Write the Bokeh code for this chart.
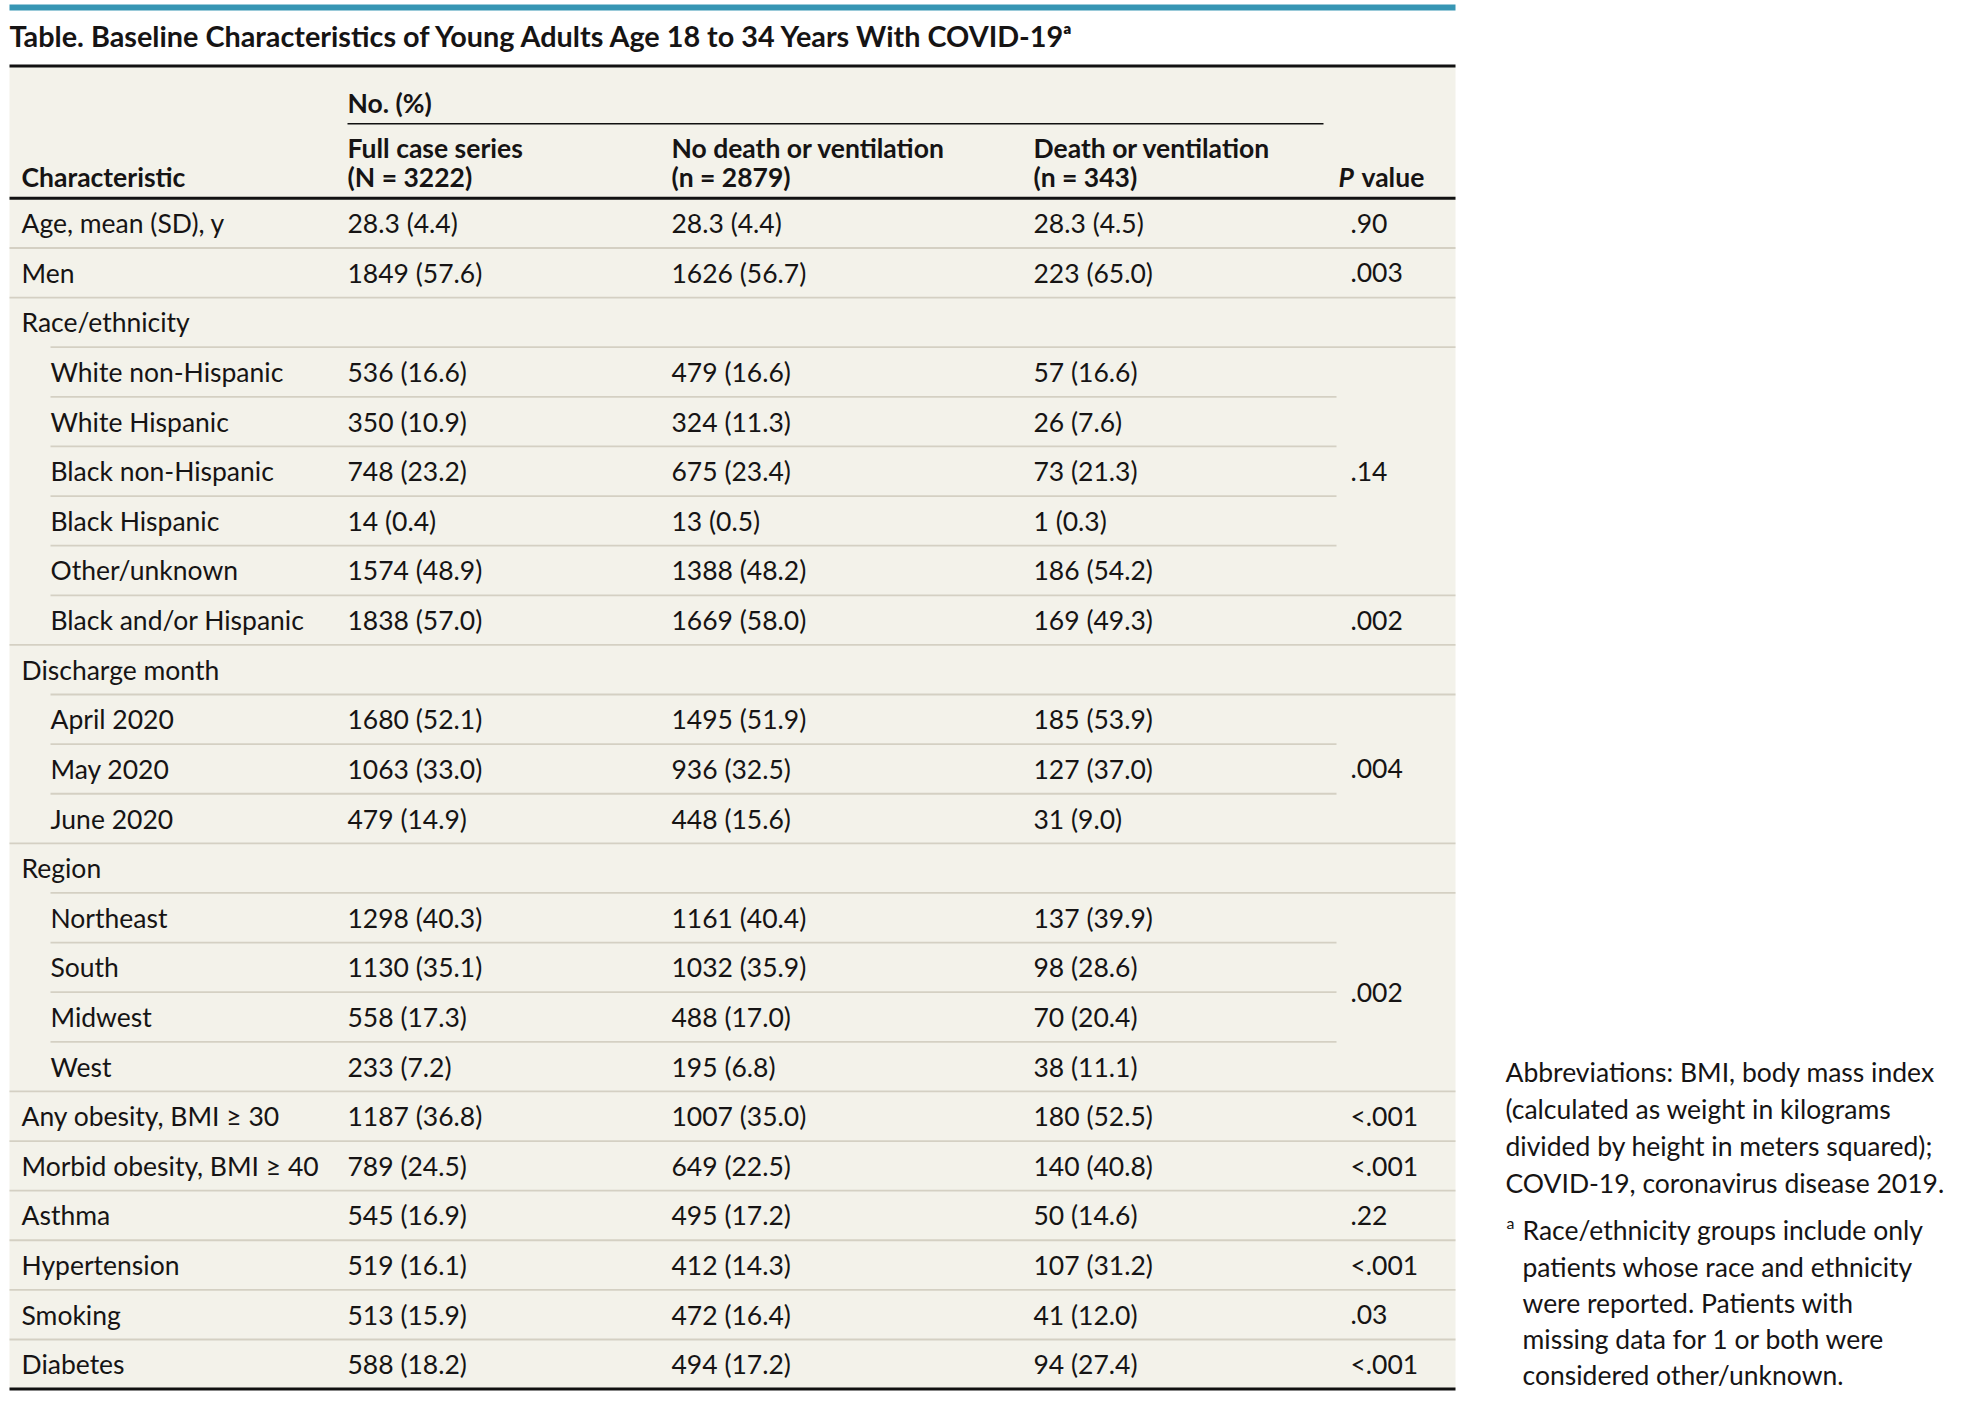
from bokeh.plotting import figure
from bokeh.models import ColumnDataSource, Range1d
from bokeh.embed import file_html
from bokeh.resources import INLINE
from bokeh.core.properties import value

# ---------------- data ----------------
title_text = "Table. Baseline Characteristics of Young Adults Age 18 to 34 Years With COVID-19\u1d43"
group_header = "No. (%)"
first_col_header = "Characteristic"
col_titles = ["Full case series", "No death or ventilation", "Death or ventilation"]
col_sizes = ["(N = 3222)", "(n = 2879)", "(n = 343)"]

characteristics = [
    "Age, mean (SD), y", "Men", "Race/ethnicity", "White non-Hispanic", "White Hispanic",
    "Black non-Hispanic", "Black Hispanic", "Other/unknown", "Black and/or Hispanic",
    "Discharge month", "April 2020", "May 2020", "June 2020", "Region", "Northeast",
    "South", "Midwest", "West", "Any obesity, BMI \u2265 30", "Morbid obesity, BMI \u2265 40",
    "Asthma", "Hypertension", "Smoking", "Diabetes",
]
indented = [0, 0, 0, 1, 1, 1, 1, 1, 1, 0, 1, 1, 1, 0, 1, 1, 1, 1, 0, 0, 0, 0, 0, 0]

full_n = [28.3, 1849, None, 536, 350, 748, 14, 1574, 1838, None, 1680, 1063, 479, None,
          1298, 1130, 558, 233, 1187, 789, 545, 519, 513, 588]
full_pct = [4.4, 57.6, None, 16.6, 10.9, 23.2, 0.4, 48.9, 57.0, None, 52.1, 33.0, 14.9, None,
            40.3, 35.1, 17.3, 7.2, 36.8, 24.5, 16.9, 16.1, 15.9, 18.2]
nodeath_n = [28.3, 1626, None, 479, 324, 675, 13, 1388, 1669, None, 1495, 936, 448, None,
             1161, 1032, 488, 195, 1007, 649, 495, 412, 472, 494]
nodeath_pct = [4.4, 56.7, None, 16.6, 11.3, 23.4, 0.5, 48.2, 58.0, None, 51.9, 32.5, 15.6, None,
               40.4, 35.9, 17.0, 6.8, 35.0, 22.5, 17.2, 14.3, 16.4, 17.2]
death_n = [28.3, 223, None, 57, 26, 73, 1, 186, 169, None, 185, 127, 31, None,
           137, 98, 70, 38, 180, 140, 50, 107, 41, 94]
death_pct = [4.5, 65.0, None, 16.6, 7.6, 21.3, 0.3, 54.2, 49.3, None, 53.9, 37.0, 9.0, None,
             39.9, 28.6, 20.4, 11.1, 52.5, 40.8, 14.6, 31.2, 12.0, 27.4]

p_values = [".90", ".003", ".14", ".002", ".004", ".002", "<.001", "<.001", ".22", "<.001", ".03", "<.001"]
p_first_row = [0, 1, 3, 8, 10, 14, 18, 19, 20, 21, 22, 23]
p_last_row = [0, 1, 7, 8, 12, 17, 18, 19, 20, 21, 22, 23]

footnote_abbrev = [
    "Abbreviations: BMI, body mass index",
    "(calculated as weight in kilograms",
    "divided by height in meters squared);",
    "COVID-19, coronavirus disease 2019.",
]
footnote_a_mark = "a"
footnote_a = [
    "Race/ethnicity groups include only",
    "patients whose race and ethnicity",
    "were reported. Patients with",
    "missing data for 1 or both were",
    "considered other/unknown.",
]

# ---------------- layout / style ----------------
FONT = value("Lato")
TXT = "#161414"
BG = "#f3f2ea"
THIN = "#d4d0c3"
TEAL = "#3796b4"
FS = "26.5px"

ROW_TOP, ROW_H = 199, 49.9
X_LEFT, X_RIGHT = 9, 1455
X_LABEL, X_INDENT = 21, 50
COL_X = [347, 671, 1033]
P_X, P_LINE_END = 1350, 1336
TABLE_BOTTOM = ROW_TOP + ROW_H * 24

n_rows = len(characteristics)


def fmt(n, pct):
    if n is None:
        return ""
    return f"{n:g} ({pct:.1f})"


p = figure(width=1947, height=1392, x_range=Range1d(0, 1947), y_range=Range1d(1400, 0),
           output_backend="svg", toolbar_location=None, min_border=0, title=None)
p.axis.visible = False
p.grid.visible = False
p.outline_line_color = None
p.background_fill_color = "white"
p.border_fill_color = "white"

# teal bar on top
p.quad(left=[X_LEFT], right=[X_RIGHT], top=[4], bottom=[10], fill_color=TEAL, line_color=None)
# table background
p.quad(left=[X_LEFT], right=[X_RIGHT], top=[66], bottom=[TABLE_BOTTOM], fill_color=BG, line_color=None)

# title (y values below are visual text centres)
p.text(x=[9], y=[36], text=[title_text], text_font=FONT, text_font_style="bold",
       text_font_size="28.8px", text_color=TXT, text_baseline="alphabetic", text_align="left")

# heavy rules
p.segment(x0=[X_LEFT] * 3, x1=[X_RIGHT] * 3,
          y0=[66, ROW_TOP, TABLE_BOTTOM], y1=[66, ROW_TOP, TABLE_BOTTOM],
          line_color="#111111", line_width=3)
# rule under "No. (%)"
p.segment(x0=[COL_X[0]], x1=[1323], y0=[124], y1=[124], line_color="#111111", line_width=1.5)

# header texts
hdr = dict(text_font=FONT, text_font_style="bold", text_font_size=FS, text_color=TXT,
           text_baseline="alphabetic", text_align="left")
p.text(x=[COL_X[0]], y=[103], text=[group_header], **hdr)
p.text(x=COL_X, y=[148] * 3, text=col_titles, **hdr)
p.text(x=COL_X, y=[178] * 3, text=col_sizes, **hdr)
p.text(x=[X_LABEL], y=[178], text=[first_col_header], **hdr)
hdr_it = dict(hdr)
hdr_it["text_font_style"] = "bold italic"
p.text(x=[1338], y=[178], text=["P"], **hdr_it)
p.text(x=[1361], y=[178], text=["value"], **hdr)

# thin row separators
span_id = [-1] * n_rows
for k, (a, b) in enumerate(zip(p_first_row, p_last_row)):
    for r in range(a, b + 1):
        span_id[r] = k
x0s, x1s, ys = [], [], []
for i in range(n_rows - 1):
    y = ROW_TOP + ROW_H * (i + 1)
    x0 = X_INDENT if indented[i + 1] else X_LEFT
    same_span = span_id[i] >= 0 and span_id[i] == span_id[i + 1]
    x1 = P_LINE_END if same_span else X_RIGHT
    x0s.append(x0); x1s.append(x1); ys.append(y)
p.segment(x0=x0s, x1=x1s, y0=ys, y1=ys, line_color=THIN, line_width=1.8)

# body texts
body = dict(text_font=FONT, text_font_size=FS, text_color=TXT,
            text_baseline="alphabetic", text_align="left")
row_mid = [ROW_TOP + ROW_H * i + ROW_H / 2 for i in range(n_rows)]
label_src = ColumnDataSource(dict(
    x=[X_INDENT if ind else X_LABEL for ind in indented], y=row_mid, t=characteristics))
p.text(x="x", y="y", text="t", source=label_src, **body)

for cx, ns, ps in zip(COL_X, [full_n, nodeath_n, death_n], [full_pct, nodeath_pct, death_pct]):
    src = ColumnDataSource(dict(x=[cx] * n_rows, y=row_mid,
                                t=[fmt(n, q) for n, q in zip(ns, ps)]))
    p.text(x="x", y="y", text="t", source=src, **body)

p_src = ColumnDataSource(dict(
    x=[P_X] * len(p_values),
    y=[ROW_TOP + ROW_H * (a + b + 1) / 2 for a, b in zip(p_first_row, p_last_row)],
    t=p_values))
p.text(x="x", y="y", text="t", source=p_src, **body)

# footnotes
fn_mid1 = [1078 + 37 * k for k in range(len(footnote_abbrev))]
p.text(x=[1505] * len(footnote_abbrev), y=fn_mid1, text=footnote_abbrev, **body)
fn_mid2 = [1237 + 36.3 * k for k in range(len(footnote_a))]
p.text(x=[1522] * len(footnote_a), y=fn_mid2, text=footnote_a, **body)
p.text(x=[1506], y=[fn_mid2[0] - 8], text=[footnote_a_mark], text_font=FONT,
       text_font_size="16px", text_color=TXT, text_baseline="alphabetic", text_align="left")

open("out.html", "w").write(file_html(p, INLINE))
